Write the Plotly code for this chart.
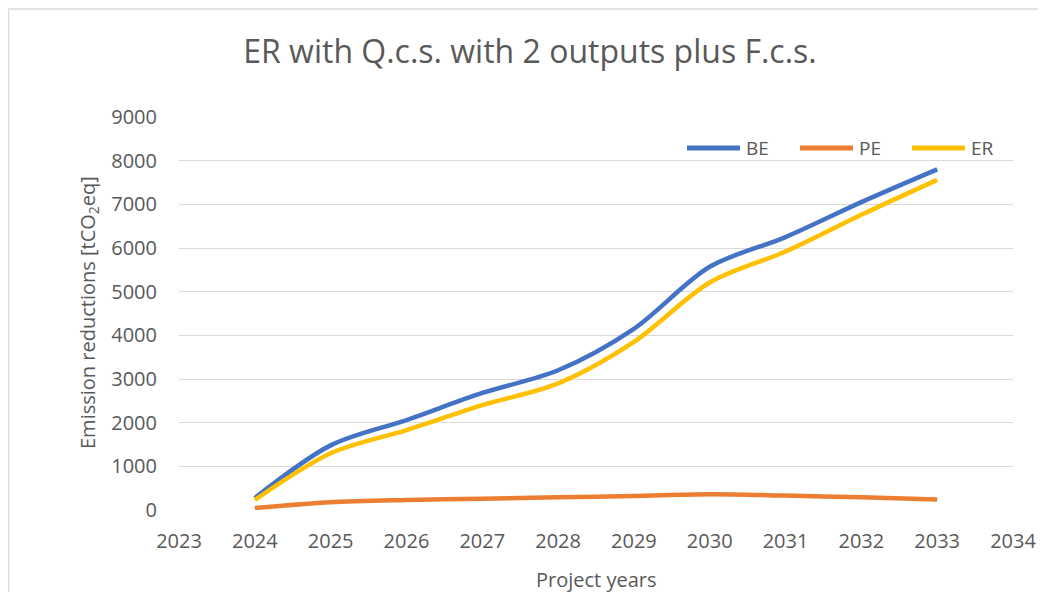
import plotly.graph_objects as go

years = [2024, 2025, 2026, 2027, 2028, 2029, 2030, 2031, 2032, 2033]
be = [275, 1480, 2060, 2680, 3200, 4150, 5570, 6250, 7050, 7800]
pe = [45, 180, 230, 260, 290, 320, 360, 330, 290, 240]
er = [230, 1300, 1830, 2400, 2900, 3850, 5210, 5920, 6760, 7560]

x_ticks = list(range(2023, 2035))
y_ticks = list(range(0, 9001, 1000))

series = [("BE", be, "#4472C4"), ("PE", pe, "#ED7D31"), ("ER", er, "#FFC000")]

FONT = "Open Sans"
GREY = "#595959"

# page body has an 8px margin; figure coordinates below are page coords minus 8
W, H = 1038, 584
L, T = 171, 109
PR, PB = 1005, 502
R, B = W - PR, H - PB
pw, ph = PR - L, PB - T


def px(x):
    return (x - L) / pw


def py(y):
    return (PB - y) / ph


fig = go.Figure()
for name, vals, col in series:
    fig.add_trace(go.Scatter(x=years, y=vals, name=name, mode="lines", showlegend=False,
                             line=dict(color=col, width=4.5, shape="spline", smoothing=0.9)))

shapes = [dict(type="rect", xref="paper", yref="paper",
               x0=px(0.5), x1=px(1060), y0=py(1), y1=py(620),
               line=dict(color="#d9d9d9", width=1.5), fillcolor="rgba(0,0,0,0)", layer="below")]
annotations = []

# legend (drawn manually to match sample length)
leg_x = [677, 790, 902]
leg_y = 140
for (name, _, col), lx in zip(series, leg_x):
    shapes.append(dict(type="line", xref="paper", yref="paper",
                       x0=px(lx + 2), x1=px(lx + 55), y0=py(leg_y), y1=py(leg_y),
                       line=dict(color=col, width=5)))
    annotations.append(dict(text=name, xref="paper", yref="paper", x=px(lx + 59), y=py(leg_y),
                            xanchor="left", yanchor="middle", showarrow=False,
                            font=dict(size=19, color=GREY, family=FONT)))

annotations.append(dict(text="Project years", xref="paper", yref="paper", x=px((L + PR) / 2), y=py(571),
                        xanchor="center", yanchor="middle", showarrow=False,
                        font=dict(size=20, color=GREY, family=FONT)))
annotations.append(dict(text="Emission reductions [tCO<sub>2</sub>eq]", xref="paper", yref="paper",
                        x=px(80), y=py(305), xanchor="center", yanchor="middle", textangle=-90,
                        showarrow=False, font=dict(size=20, color=GREY, family=FONT)))

fig.update_layout(
    width=W, height=H,
    margin=dict(l=L, r=R, t=T, b=B, autoexpand=False),
    paper_bgcolor="white", plot_bgcolor="white",
    font=dict(family=FONT, color=GREY, size=20),
    title=dict(text="ER with Q.c.s. with 2 outputs plus F.c.s.", x=px(522), xref="paper",
               xanchor="center", y=1 - 44 / H, yanchor="middle",
               font=dict(size=32, color=GREY, family=FONT)),
    xaxis=dict(range=[2023, 2034], tickmode="array", tickvals=x_ticks,
               showgrid=False, zeroline=False, showline=False, ticks="",
               tickfont=dict(size=20), ticklabelstandoff=17),
    yaxis=dict(range=[0, 9000], tickmode="array", tickvals=y_ticks,
               showgrid=True, gridcolor="#d9d9d9", gridwidth=1.3, zeroline=False, showline=False,
               ticks="", tickfont=dict(size=20), ticklabelstandoff=21),
    showlegend=False,
    shapes=shapes,
    annotations=annotations,
)

fig.write_html("out.html")
